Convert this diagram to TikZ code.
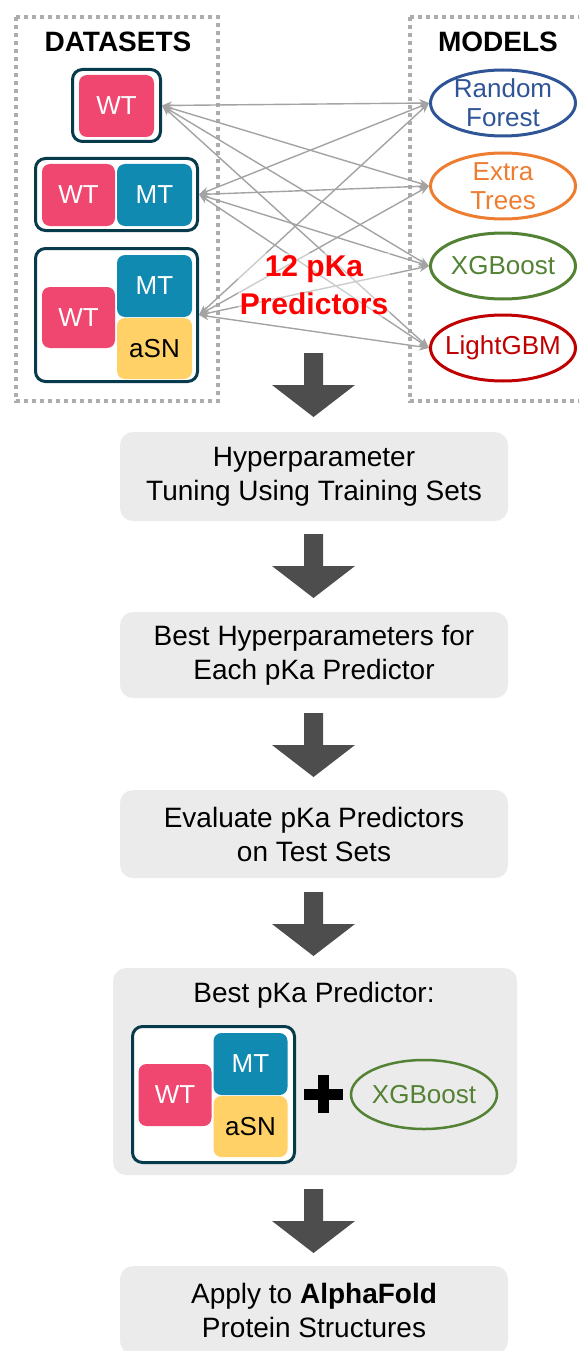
\documentclass[tikz,border=0pt]{standalone}
\usepackage{fontspec}
\setmainfont{Liberation Sans}
\usetikzlibrary{shapes.geometric,arrows.meta}
\definecolor{pinkc}{HTML}{EF476F}
\definecolor{bluec}{HTML}{118AB2}
\definecolor{yellc}{HTML}{FFD166}
\definecolor{darkc}{HTML}{073B4C}
\definecolor{rfc}{HTML}{2F5597}
\definecolor{etc}{HTML}{ED7D31}
\definecolor{xgc}{HTML}{548235}
\definecolor{lgc}{HTML}{C00000}
\definecolor{boxc}{HTML}{EBEBEB}
\definecolor{arrowc}{HTML}{4D4D4D}
\definecolor{linkc}{HTML}{A3A3A3}
\definecolor{dotc}{HTML}{ADADAD}
\begin{document}
\begin{tikzpicture}[x=1pt,y=-1pt,
  every node/.style={inner sep=0pt, outer sep=0pt},
  stepbox/.style={fill=boxc, rounded corners=13pt, align=center, minimum width=388pt,
    font=\fontsize{28}{34}\selectfont, text=black},
  dotbox/.style={draw=dotc, line width=4pt, dash pattern=on 4pt off 4pt},
  title/.style={font=\bfseries\fontsize{28}{32}\selectfont},
  frame/.style={draw=darkc, line width=3pt, rounded corners=10pt, fill=white, outer sep=1.5pt},
  ds/.style={rounded corners=8pt, font=\fontsize{26}{30}\selectfont},
  wt/.style={ds, fill=pinkc, text=white},
  mt/.style={ds, fill=bluec, text=white},
  asn/.style={ds, fill=yellc, text=black},
  model/.style={ellipse, line width=3pt, minimum width=145pt, minimum height=66pt, outer sep=1.5pt},
  modeltext/.style={align=center, font=\fontsize{26}{29}\selectfont},
  link/.style={draw=linkc, line width=1.4pt, {Stealth[length=10pt,width=8pt]}-{Stealth[length=10pt,width=8pt]}},
  bigarrow/.pic={\fill[arrowc] (-9.5,0) -- (9.5,0) -- (9.5,32) -- (41.5,32) -- (0,64) -- (-41.5,32) -- (-9.5,32) -- cycle;}
]
\useasboundingbox (0,0) rectangle (579,1351);
\clip (0,0) rectangle (579,1351);

% dotted group boxes
\draw[dotbox] (16,17) rectangle (218,401);
\draw[dotbox] (410,17) rectangle (600,401);
\node[title] (dlab) at (118,42) {DATASETS};
\node[title] (mlab) at (498,42) {MODELS};

% datasets
\node[frame, minimum width=88pt, minimum height=72pt] (d1) at (116.5,105.5) {};
\node[wt, minimum width=75pt, minimum height=62pt] (d1wt) at (116.5,106) {WT};

\node[frame, minimum width=162pt, minimum height=72pt] (d2) at (116.5,194.5) {};
\node[wt, minimum width=73pt, minimum height=62pt] (d2wt) at (78.5,195) {WT};
\node[mt, minimum width=75pt, minimum height=62pt] (d2mt) at (154.5,195) {MT};

\node[frame, minimum width=162pt, minimum height=133pt] (d3) at (116.5,315) {};
\node[wt, minimum width=73pt, minimum height=61pt] (d3wt) at (78.5,317.5) {WT};
\node[mt, minimum width=75pt, minimum height=62pt] (d3mt) at (154.5,286) {MT};
\node[asn, minimum width=75pt, minimum height=61pt] (d3asn) at (154.5,348.5) {aSN};

% models
\node[model, draw=rfc] (m1) at (503,103) {};
\node[modeltext, text=rfc] (m1t) at (m1) {Random\\Forest};
\node[model, draw=etc] (m2) at (503,186) {};
\node[modeltext, text=etc] (m2t) at (m2) {Extra\\Trees};
\node[model, draw=xgc] (m3) at (503,266) {};
\node[modeltext, text=xgc] (m3t) at (m3) {XGBoost};
\node[model, draw=lgc] (m4) at (503,348) {};
\node[modeltext, text=lgc] (m4t) at (m4) {LightGBM};

% links
\foreach \d in {d1,d2,d3}
  \foreach \m in {m1,m2,m3,m4}
    \draw[link] (\d.east) -- (\m.west);

\node[font=\bfseries\fontsize{30}{38}\selectfont, text=red, align=center,
  fill=white, fill opacity=0.45, text opacity=1, inner sep=2pt] (lbl) at (314,285) {12 pKa\\Predictors};

% flow
\pic at (313.5,353) {bigarrow};
\node[stepbox, minimum height=89pt] (b1) at (314,476.5) {Hyperparameter\\Tuning Using Training Sets};
\pic at (313.5,534) {bigarrow};
\node[stepbox, minimum height=86pt] (b2) at (314,655) {Best Hyperparameters for\\Each pKa Predictor};
\pic at (313.5,713) {bigarrow};
\node[stepbox, minimum height=88pt] (b3) at (314,834) {Evaluate pKa Predictors\\on Test Sets};
\pic at (313.5,892) {bigarrow};
\node[stepbox, minimum width=404pt, minimum height=207pt] (b4) at (315,1071.5) {};
\node[font=\fontsize{28}{34}\selectfont] (b4t) at (314,995) {Best pKa Predictor:};

\node[frame, minimum width=162pt, minimum height=136pt] (d4) at (213.5,1094.5) {};
\node[wt, minimum width=73pt, minimum height=62pt] (d4wt) at (175,1095) {WT};
\node[mt, minimum width=74pt, minimum height=62pt] (d4mt) at (250.5,1064) {MT};
\node[asn, minimum width=74pt, minimum height=61pt] (d4asn) at (250.5,1126.5) {aSN};
\draw[line width=11pt] (304,1094) -- (343,1094);
\draw[line width=11pt] (323.5,1075) -- (323.5,1113);
\node[model, draw=xgc, line width=2.5pt, minimum width=146pt, minimum height=69pt] (m5) at (424,1094.5) {};
\node[modeltext, text=xgc] (m5t) at (m5) {XGBoost};

\pic at (313.5,1189) {bigarrow};
\node[stepbox, minimum height=88pt] (b5) at (314,1310) {Apply to \textbf{AlphaFold}\\Protein Structures};
\end{tikzpicture}
\end{document}
